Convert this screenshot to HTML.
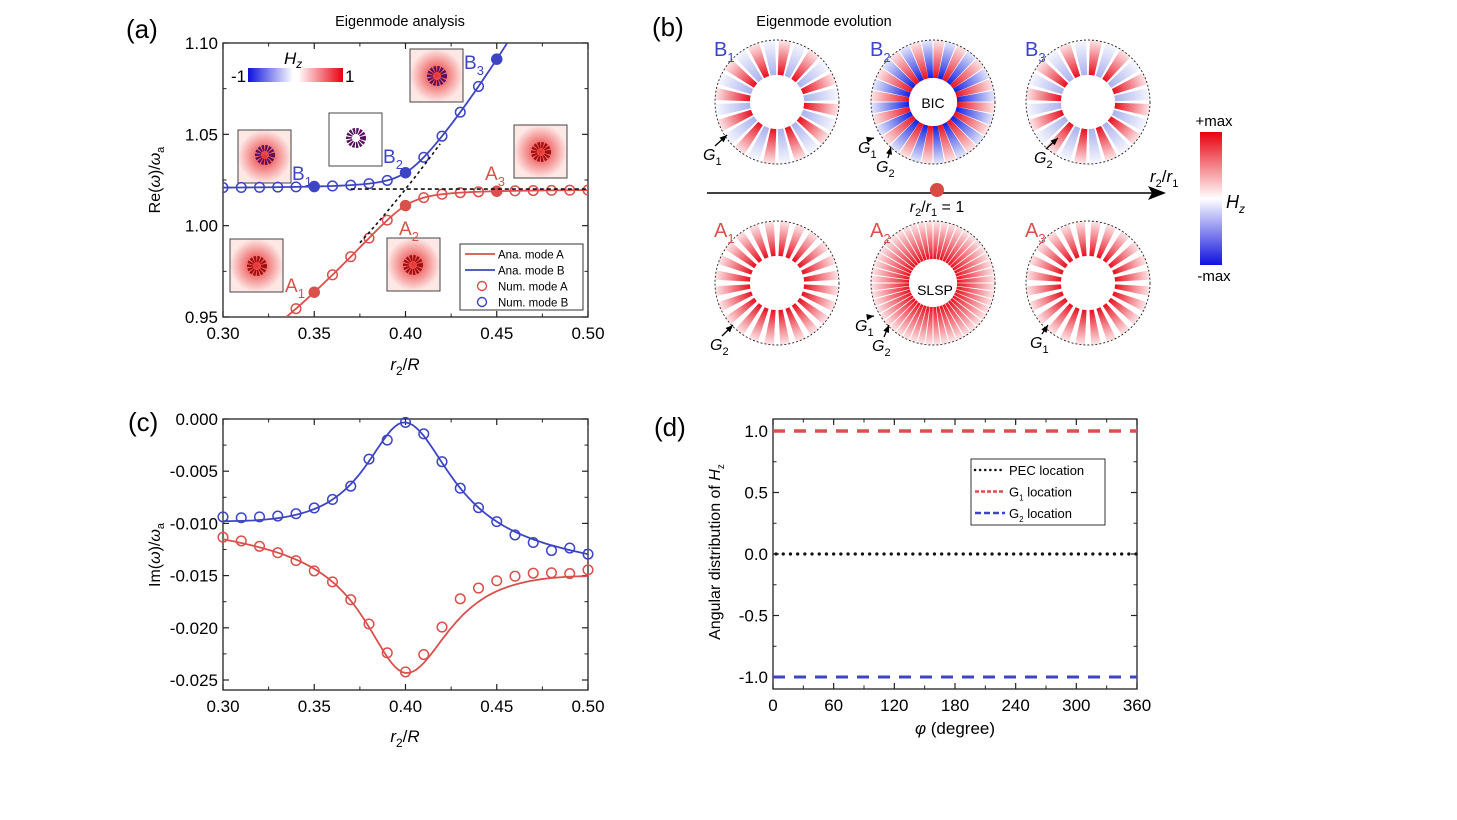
<!DOCTYPE html>
<html><head><meta charset="utf-8"><style>
html,body{margin:0;padding:0;background:#fff;}
svg{display:block;font-family:"Liberation Sans",Arial,sans-serif;}
</style></head><body>
<svg id="s" width="1457" height="820" viewBox="0 0 1457 820" xmlns="http://www.w3.org/2000/svg">
<defs>
<linearGradient id="cbA1" x1="0" x2="1" y1="0" y2="0"><stop offset="0" stop-color="#1010e0"/><stop offset="1" stop-color="#ffffff"/></linearGradient>
<linearGradient id="cbA2" x1="0" x2="1" y1="0" y2="0"><stop offset="0" stop-color="#ffffff"/><stop offset="1" stop-color="#e80010"/></linearGradient>
<linearGradient id="cbB" x1="0" x2="0" y1="0" y2="1"><stop offset="0" stop-color="#e80010"/><stop offset="0.5" stop-color="#ffffff"/><stop offset="1" stop-color="#1010e0"/></linearGradient>
<radialGradient id="ins"><stop offset="0" stop-color="#e83030"/><stop offset="1" stop-color="#fde8e6"/></radialGradient>
</defs>
<g id="root"></g>
<text x="126" y="38" font-size="26">(a)</text>
<text x="652" y="36" font-size="26">(b)</text>
<text x="128" y="431" font-size="26">(c)</text>
<text x="654" y="436" font-size="26">(d)</text>
<text x="400" y="26" font-size="14.5" text-anchor="middle">Eigenmode analysis</text>
<text x="824" y="26" font-size="14.5" text-anchor="middle">Eigenmode evolution</text>
</svg>
<script>
const NS="http://www.w3.org/2000/svg";
const root=document.getElementById('root');
const defs=document.querySelector('defs');
function el(t,a,p,txt){const e=document.createElementNS(NS,t);for(const k in a)e.setAttribute(k,a[k]);if(txt!==undefined&&txt!==null)e.textContent=txt;(p||root).appendChild(e);return e;}
const RED="#d9504c",BLUE="#3d45c4";
function axes(x0,x1,y0,y1,xt,xminor,yt,yminor,xfmt,yfmt,XV,YV){
  el('rect',{x:x0,y:y0,width:x1-x0,height:y1-y0,fill:'none',stroke:'#222','stroke-width':1.3});
  for(const v of xt){const X=XV(v);
    el('line',{x1:X,x2:X,y1:y1,y2:y1-6,stroke:'#222','stroke-width':1.2});
    el('line',{x1:X,x2:X,y1:y0,y2:y0+6,stroke:'#222','stroke-width':1.2});
    el('text',{x:X,y:y1+22,'font-size':17,'text-anchor':'middle'},null,xfmt(v));}
  for(const v of xminor){const X=XV(v);
    el('line',{x1:X,x2:X,y1:y1,y2:y1-3.5,stroke:'#222','stroke-width':1});
    el('line',{x1:X,x2:X,y1:y0,y2:y0+3.5,stroke:'#222','stroke-width':1});}
  for(const v of yt){const Y=YV(v);
    el('line',{x1:x0,x2:x0+6,y1:Y,y2:Y,stroke:'#222','stroke-width':1.2});
    el('line',{x1:x1,x2:x1-6,y1:Y,y2:Y,stroke:'#222','stroke-width':1.2});
    el('text',{x:x0-5,y:Y+6,'font-size':17,'text-anchor':'end'},null,yfmt(v));}
  for(const v of yminor){const Y=YV(v);
    el('line',{x1:x0,x2:x0+3.5,y1:Y,y2:Y,stroke:'#222','stroke-width':1});
    el('line',{x1:x1,x2:x1-3.5,y1:Y,y2:Y,stroke:'#222','stroke-width':1});}
}
function path(pts,attrs){el('path',Object.assign({d:'M'+pts.map(p=>p[0].toFixed(1)+','+p[1].toFixed(1)).join('L'),fill:'none'},attrs));}
// ---------- panel (a)
{const X=v=>223+(v-0.3)/0.2*365, Y=v=>43+(1.10-v)/0.15*274;
 axes(223,588,43,317,[0.30,0.35,0.40,0.45,0.50],[0.325,0.375,0.425,0.475],[0.95,1.00,1.05,1.10],[0.975,1.025,1.075],v=>v.toFixed(2),v=>v.toFixed(2),X,Y);
 const cp=el('clipPath',{id:'ca'},defs);el('rect',{x:223,y:43,width:365,height:274},cp);
 const g=el('g',{'clip-path':'url(#ca)'});
 const f=x=>1.02+1.25*(x-0.4)+3*(x-0.4)**2;
 const ev=(x,s)=>{const d=f(x)-1.02,a=(f(x)+1.02)/2;return a+s*Math.sqrt(d*d/4+0.000081);};
 const ins=[[238,130,true,265,155],[329,113,false,356,138],[410,49,true,437,76],[514,125,true,541,152],[230,239,true,257,266],[387,238,true,413,265]];
 for(const[ix,iy,red,cx,cy]of ins){el('rect',{x:ix,y:iy,width:53,height:53,fill:red?'url(#ins)':'#fff',stroke:'#444','stroke-width':1},g);
   el('circle',{cx:cx,cy:cy,r:7,fill:'none',stroke:(red&&(ix==514||ix==230||ix==387))?'#a01010':'#5a1060','stroke-width':6,'stroke-dasharray':'2 1'},g);}
 el('rect',{x:248,y:68,width:45,height:14,fill:'url(#cbA1)'},g);
 el('rect',{x:298,y:68,width:45,height:14,fill:'url(#cbA2)'},g);
 el('text',{x:231,y:82,'font-size':17},g,'-1');el('text',{x:345,y:82,'font-size':17},g,'1');
 const hz=el('text',{x:284,y:64,'font-size':17,'font-style':'italic'},g,'H');el('tspan',{'font-size':12,dy:4},hz,'z');
 path([[X(0.37),Y(1.02)],[X(0.5),Y(1.02)]],{stroke:'#111','stroke-width':1.6,'stroke-dasharray':'4 3'});
 let dp=[];for(let x=0.375;x<=0.421;x+=0.002)dp.push([X(x),Y(f(x))]);path(dp,{stroke:'#111','stroke-width':1.6,'stroke-dasharray':'3 3'});
 let pa=[],pb=[];for(let x=0.3;x<=0.5001;x+=0.002){pa.push([X(x),Y(ev(x,-1))]);pb.push([X(x),Y(ev(x,1))]);}
 const ga=el('g',{},g);
 el('path',{d:'M'+pa.map(p=>p.join(',')).join('L'),fill:'none',stroke:RED,'stroke-width':1.8},ga);
 el('path',{d:'M'+pb.map(p=>p.join(',')).join('L'),fill:'none',stroke:BLUE,'stroke-width':1.8},ga);
 for(let i=0;i<=20;i++){const x=0.3+i*0.01;
   const fill=[0.35,0.40,0.45].some(v=>Math.abs(v-x)<1e-6);
   if(x>=0.335)el('circle',{cx:X(x),cy:Y(ev(x,-1)),r:fill?5:4.8,fill:fill?RED:'none',stroke:RED,'stroke-width':1.5},ga);
   if(x<=0.455)el('circle',{cx:X(x),cy:Y(ev(x,1)),r:fill?5:4.8,fill:fill?BLUE:'none',stroke:BLUE,'stroke-width':1.5},ga);
 }
 const lab=(x,y,c,t,s)=>{const e=el('text',{x:x,y:y,'font-size':19,fill:c});el('tspan',{},e,t);el('tspan',{'font-size':13,dy:6},e,s);};
 lab(292,180,BLUE,'B','1');lab(383,163,BLUE,'B','2');lab(464,69,BLUE,'B','3');
 lab(485,180,RED,'A','3');lab(399,235,RED,'A','2');lab(285,292,RED,'A','1');
 el('rect',{x:460,y:244,width:123,height:66,fill:'#fff',stroke:'#333','stroke-width':1});
 const lg=[['l',RED,'Ana. mode A'],['l',BLUE,'Ana. mode B'],['c',RED,'Num. mode A'],['c',BLUE,'Num. mode B']];
 lg.forEach((q,i)=>{const yy=254+i*16;
   if(q[0]=='l')el('line',{x1:465,x2:495,y1:yy,y2:yy,stroke:q[1],'stroke-width':1.8});else el('circle',{cx:482,cy:yy,r:4.5,fill:'none',stroke:q[1],'stroke-width':1.4});
   el('text',{x:498,y:yy+4.5,'font-size':11.5},null,q[2]);});
 const yl=el('text',{transform:'translate(160,180) rotate(-90)','font-size':16,'text-anchor':'middle'});yl.innerHTML='Re(<tspan font-style="italic">ω</tspan>)/<tspan font-style="italic">ω</tspan><tspan font-size="11" dy="4">a</tspan>';
 const xl=el('text',{x:405,y:370,'font-size':17,'text-anchor':'middle'});xl.innerHTML='<tspan font-style="italic">r</tspan><tspan font-size="12" dy="5">2</tspan><tspan dy="-5">/</tspan><tspan font-style="italic">R</tspan>';
}
// ---------- panel (c)
{const X=v=>223+(v-0.3)/0.2*365, Y=v=>419+(-v)/0.025*261;
 axes(223,588,419,690,[0.30,0.35,0.40,0.45,0.50],[0.325,0.375,0.425,0.475],[0,-0.005,-0.01,-0.015,-0.02,-0.025],[-0.0025,-0.0075,-0.0125,-0.0175,-0.0225],v=>v.toFixed(2),v=>v==0?'0.000':v.toFixed(3),X,Y);
 const avg=x=>-0.01065+(x-0.3)/0.2*(-0.00335);
 const h=x=>{const w=x<0.4?0.028:0.031;return 0.012/(1+((x-0.4)/w)**2);};
 let pa=[],pb=[];for(let x=0.3;x<=0.5001;x+=0.002){pb.push([X(x),Y(avg(x)+h(x))]);pa.push([X(x),Y(avg(x)-h(x))]);}
 path(pb,{stroke:BLUE,'stroke-width':1.8});path(pa,{stroke:RED,'stroke-width':1.8});
 const offB=[0.0004,0.0003,0.0003,0.0002,0.0001,0.0001,0,-0.0002,0.0002,-0.0005,0,0.0002,0.0001,0,0,0,-0.0003,-0.0003,-0.0005,0.0002,0];
 const offA=[0.0002,0.0002,0.0001,0,-0.0001,-0.0002,0,0.0001,0.0003,0.0004,0.0001,0.0008,0.0012,0.0018,0.0013,0.0010,0.0008,0.0007,0.0005,0.0003,0.0006];
 for(let i=0;i<=20;i++){const x=0.3+i*0.01;
   el('circle',{cx:X(x),cy:Y(avg(x)+h(x)+offB[i]),r:4.8,fill:'none',stroke:BLUE,'stroke-width':1.5});
   el('circle',{cx:X(x),cy:Y(avg(x)-h(x)+offA[i]),r:4.8,fill:'none',stroke:RED,'stroke-width':1.5});}
 const yl=el('text',{transform:'translate(160,555) rotate(-90)','font-size':16,'text-anchor':'middle'});yl.innerHTML='Im(<tspan font-style="italic">ω</tspan>)/<tspan font-style="italic">ω</tspan><tspan font-size="11" dy="4">a</tspan>';
 const xl=el('text',{x:405,y:742,'font-size':17,'text-anchor':'middle'});xl.innerHTML='<tspan font-style="italic">r</tspan><tspan font-size="12" dy="5">2</tspan><tspan dy="-5">/</tspan><tspan font-style="italic">R</tspan>';
}
// ---------- panel (d)
{const X=v=>773+v/360*364, Y=v=>554-v*123;
 axes(773,1137,419,689,[0,60,120,180,240,300,360],[30,90,150,210,270,330],[1,0.5,0,-0.5,-1],[0.75,0.25,-0.25,-0.75],v=>String(v),v=>v.toFixed(1),X,Y);
 el('line',{x1:773,x2:1137,y1:Y(1),y2:Y(1),stroke:RED,'stroke-width':3.5,'stroke-dasharray':'12 9'});
 el('line',{x1:773,x2:1137,y1:Y(-1),y2:Y(-1),stroke:BLUE,'stroke-width':3,'stroke-dasharray':'12 9'});
 el('line',{x1:776,x2:1137,y1:Y(0),y2:Y(0),stroke:'#111','stroke-width':3.2,'stroke-dasharray':'0.1 7.1','stroke-linecap':'round'});
 el('rect',{x:971,y:459,width:134,height:66,fill:'#fff',stroke:'#333','stroke-width':1});
 [['#111','0.1 5','round','PEC location',''],[RED,'4 2','butt','G','1'],[BLUE,'6 3','butt','G','2']].forEach((q,i)=>{const yy=470+i*21.5;
   el('line',{x1:975,x2:1005,y1:yy,y2:yy,stroke:q[0],'stroke-width':2.5,'stroke-dasharray':q[1],'stroke-linecap':q[2]});
   const t=el('text',{x:1009,y:yy+5,'font-size':13});
   if(q[4]){el('tspan',{},t,q[3]);el('tspan',{'font-size':8,dy:4},t,q[4]);el('tspan',{dy:-4},t,' location');}else t.textContent=q[3];});
 const yl=el('text',{transform:'translate(720,552) rotate(-90)','font-size':16,'text-anchor':'middle'});yl.innerHTML='Angular distribution of <tspan font-style="italic">H</tspan><tspan font-size="10" dy="4">z</tspan>';
 const xl=el('text',{x:955,y:734,'font-size':17,'text-anchor':'middle'});xl.innerHTML='<tspan font-style="italic">φ</tspan> (degree)';
}
// ---------- panel (b)
{let gid=0;
 function grad(cx,cy,ri,ro,col){const id='rg'+(gid++);const g=el('radialGradient',{id:id,gradientUnits:'userSpaceOnUse',cx:cx,cy:cy,r:ro},defs);
   el('stop',{offset:ri/ro,'stop-color':col},g);el('stop',{offset:1,'stop-color':col,'stop-opacity':0.1},g);return 'url(#'+id+')';}
 // parallel-ish wedge: constant-width-ish bar
 function bar(cx,cy,ri,ro,a,wi,wo,fill){const c=Math.cos(a),s=Math.sin(a),px=-s,py=c;
   const pts=[[cx+ri*c+px*wi,cy+ri*s+py*wi],[cx+ro*c+px*wo,cy+ro*s+py*wo],[cx+ro*c-px*wo,cy+ro*s-py*wo],[cx+ri*c-px*wi,cy+ri*s-py*wi]];
   el('path',{d:'M'+pts.map(p=>p.join(',')).join('L')+'Z',fill:fill});}
 function ring(cx,cy,type,ro,ri){
   const RR=grad(cx,cy,ri,ro,'#e81020'),BB=grad(cx,cy,ri,ro,'#1020e0'),LB=grad(cx,cy,ri,ro,'#aab2ee');
   const N=type=='A2'?48:(type=='B2'?32:24);
   const d=2*Math.PI/N;
   const cpid='cr'+(gid++);const cp=el('clipPath',{id:cpid},defs);el('circle',{cx:cx,cy:cy,r:ro},cp);
   el('circle',{cx:cx,cy:cy,r:ro,fill:'#fff'});
   for(let i=0;i<N;i++){const a=-Math.PI/2+i*d+d/2;
     let f,wi,wo;
     if(type=='A2'){f=RR;wi=ri*d*0.42;wo=ro*d*0.42;}
     else if(type=='B2'){f=(i%2==0)?RR:BB;wi=ri*d*0.5;wo=ro*d*0.45;}
     else if(type=='A'){f=RR;wi=ri*d*0.3;wo=ro*d*0.3;}
     else {f=(i%2==0)?RR:LB;wi=ri*d*0.4;wo=ro*d*0.38;}
     bar(cx,cy,ri,ro,a,wi,wo,f);}
   el('circle',{cx:cx,cy:cy,r:ro,fill:'none',stroke:'#222','stroke-width':0.9,'stroke-dasharray':'2 2'});
   el('circle',{cx:cx,cy:cy,r:ri,fill:'#fff'});
 }
 const rows=[[102,'B',BLUE,['B','B2','B']],[283,'A',RED,['A','A2','A']]];
 const xs=[777,933,1088];
 rows.forEach(r=>{xs.forEach((x,j)=>{ring(x,r[0],r[3][j],62,j==1?24:27);
   const t=el('text',{x:x-63,y:r[0]-46,'font-size':20,fill:r[2]});el('tspan',{},t,r[1]);el('tspan',{'font-size':13,dy:6},t,String(j+1));});});
 el('text',{x:933,y:108,'font-size':14,'text-anchor':'middle'},null,'BIC');
 el('text',{x:935,y:295,'font-size':14,'text-anchor':'middle'},null,'SLSP');
 function G(x,y,s,ax,ay){const t=el('text',{x:x,y:y,'font-size':16,'font-style':'italic'});el('tspan',{},t,'G');el('tspan',{'font-size':11,dy:5,'font-style':'normal'},t,s);
   el('line',{x1:x+12,y1:y-14,x2:ax,y2:ay,stroke:'#000','stroke-width':1.3});
   const ang=Math.atan2(ay-(y-14),ax-(x+12));
   const b1=[ax-8*Math.cos(ang-0.4),ay-8*Math.sin(ang-0.4)],b2=[ax-8*Math.cos(ang+0.4),ay-8*Math.sin(ang+0.4)];
   el('path',{d:`M${ax},${ay}L${b1}L${b2}Z`,fill:'#000'});}
 G(703,160,'1',727,135);G(858,153,'1',874,138);G(876,172,'2',891,147);G(1034,163,'2',1058,138);
 G(710,350,'2',733,325);G(855,331,'1',874,316);G(872,351,'2',889,325);G(1030,348,'1',1048,325);
 el('line',{x1:707,x2:1158,y1:193,y2:193,stroke:'#000','stroke-width':1.6});
 el('path',{d:'M1166,193 L1148,186 L1152,193 L1148,200 Z',fill:'#000'});
 el('circle',{cx:937,cy:190,r:7,fill:'#d94a45'});
 const rl=el('text',{x:937,y:212,'font-size':16,'text-anchor':'middle'});rl.innerHTML='<tspan font-style="italic">r</tspan><tspan font-size="11" dy="4">2</tspan><tspan dy="-4">/</tspan><tspan font-style="italic">r</tspan><tspan font-size="11" dy="4">1</tspan><tspan dy="-4"> = 1</tspan>';
 const rr=el('text',{x:1150,y:182,'font-size':17});rr.innerHTML='<tspan font-style="italic">r</tspan><tspan font-size="11" dy="5">2</tspan><tspan dy="-5">/</tspan><tspan font-style="italic">r</tspan><tspan font-size="11" dy="5">1</tspan>';
 el('rect',{x:1200,y:132,width:22,height:133,fill:'url(#cbB)'});
 el('text',{x:1214,y:126,'font-size':15,'text-anchor':'middle'},null,'+max');
 el('text',{x:1214,y:281,'font-size':15,'text-anchor':'middle'},null,'-max');
 const hz=el('text',{x:1226,y:208,'font-size':18,'font-style':'italic'});el('tspan',{},hz,'H');el('tspan',{'font-size':12,dy:5},hz,'z');
}
</script>
</body></html>
